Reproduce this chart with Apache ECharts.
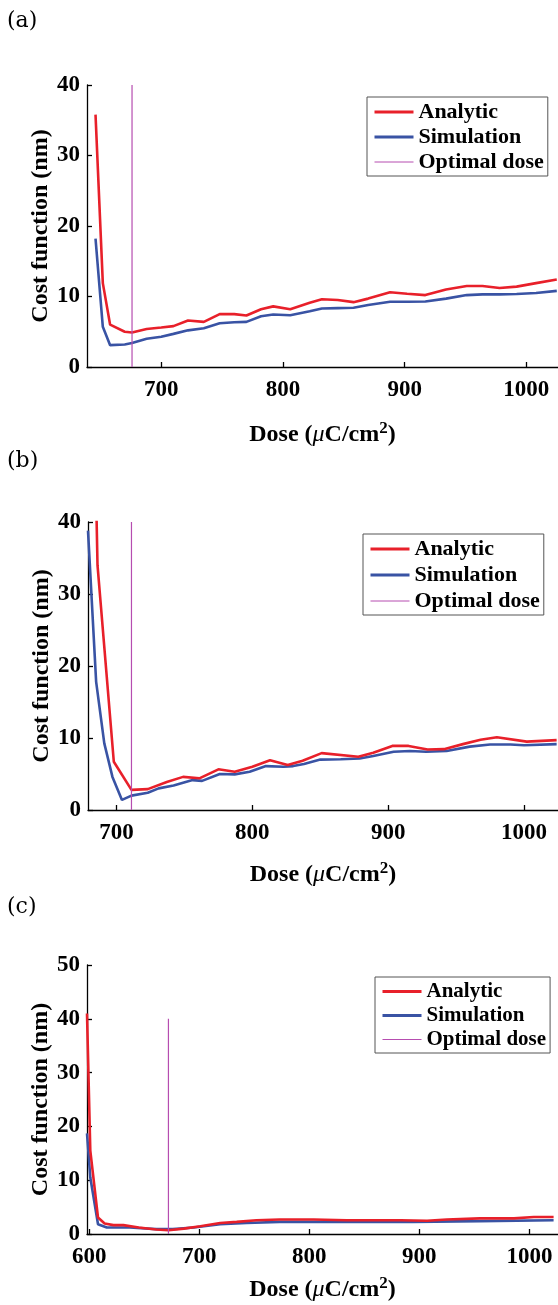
<!DOCTYPE html>
<html>
<head>
<meta charset="utf-8">
<script src="https://cdn.jsdelivr.net/npm/echarts@6.0.0/dist/echarts.min.js"></script>
<style>
html, body { margin: 0; padding: 0; background: #fff; }
#main { width: 558px; height: 1305px; }
</style>
</head>
<body>
<div id="main"></div>
<script>
// panel (a)
var doseA = [646, 652, 658, 670, 676, 688, 700, 710, 722, 735, 748, 760, 770, 782, 792, 806, 822, 832, 845, 858, 870, 888, 902, 917, 934, 951, 964, 978, 992, 1008, 1025];
var analyticA = [35.8, 11.9, 6.0, 5.0, 4.9, 5.4, 5.6, 5.8, 6.6, 6.4, 7.5, 7.5, 7.3, 8.2, 8.6, 8.2, 9.1, 9.6, 9.5, 9.2, 9.7, 10.6, 10.4, 10.2, 11.0, 11.5, 11.5, 11.2, 11.4, 11.9, 12.4];
var simulationA = [18.2, 5.7, 3.1, 3.2, 3.4, 4.0, 4.3, 4.7, 5.2, 5.5, 6.2, 6.35, 6.4, 7.2, 7.45, 7.35, 7.9, 8.3, 8.35, 8.4, 8.8, 9.25, 9.25, 9.3, 9.7, 10.2, 10.3, 10.3, 10.35, 10.5, 10.8];
var optimalA = 676;

// panel (b)
var doseAnalyticB = [679, 686, 698, 711, 723, 737, 749, 761, 775, 787, 800, 813, 826, 837, 851, 878, 889, 903, 915, 929, 941, 955, 968, 980, 1002, 1024];
var analyticB = [100, 34.0, 6.7, 2.8, 2.9, 3.9, 4.6, 4.4, 5.65, 5.3, 6.0, 6.9, 6.25, 6.85, 7.9, 7.4, 7.95, 8.9, 8.9, 8.4, 8.45, 9.15, 9.75, 10.1, 9.5, 9.7];
var doseSimulationB = [679, 685, 691, 697, 704, 711, 723, 731, 742, 756, 763, 776, 787, 798, 810, 823, 830, 838, 850, 865, 879, 889, 904, 916, 928, 943, 960, 975, 990, 1000, 1024];
var simulationB = [38.8, 17.8, 9.25, 4.6, 1.4, 2.0, 2.4, 3.0, 3.4, 4.15, 4.05, 5.0, 4.95, 5.3, 6.1, 6.0, 6.1, 6.4, 7.0, 7.05, 7.15, 7.5, 8.1, 8.2, 8.1, 8.2, 8.8, 9.1, 9.1, 9.0, 9.15];
var optimalB = 711;

// panel (c)
var doseAnalyticC = [598, 601, 608, 614, 622, 631, 645, 661, 672, 686, 701, 719, 734, 752, 773, 804, 834, 860, 883, 907, 925, 955, 986, 1004, 1022];
var analyticC = [41, 15.5, 3.05, 1.95, 1.65, 1.65, 1.2, 0.85, 0.7, 1.0, 1.45, 2.05, 2.25, 2.55, 2.7, 2.7, 2.55, 2.55, 2.55, 2.45, 2.7, 2.9, 2.9, 3.15, 3.15];
var doseSimulationC = [598, 601, 608, 616, 637, 661, 676, 695, 719, 743, 773, 830, 894, 955, 1022];
var simulationC = [18.7, 10.5, 1.8, 1.2, 1.2, 0.9, 0.9, 1.2, 1.8, 2.05, 2.25, 2.25, 2.25, 2.4, 2.55];
var optimalC = 672;

var xTicks = [700, 800, 900, 1000];
var xTicksC = [600, 700, 800, 900, 1000];

var RED = '#e8202a', BLUE = '#3953a4', PURPLE = '#b64db0';
var FONT = 'Liberation Serif';

var legendNames = [
    {name: 'Analytic', lineStyle: {width: 3}},
    {name: 'Simulation', lineStyle: {width: 3}},
    {name: 'Optimal dose', lineStyle: {width: 1}}
];

function zip(xs, ys) {
    return xs.map(function (x, i) { return [x, ys[i]]; });
}

var myChart = echarts.init(document.getElementById('main'));

var panels = [
    {label: '(a)', labelTop: 10, top: 85, height: 282, left: 87, xMin: 639, xMax: 1026, yMax: 40, ticks: xTicks, nameGap: 53,
        legend: {left: 367, top: 97, gap: 3, size: 22},
        red: zip(doseA, analyticA), blue: zip(doseA, simulationA), opt: optimalA},
    {label: '(b)', labelTop: 450, top: 522, height: 288, left: 88, xMin: 679, xMax: 1025, yMax: 40, ticks: xTicks, nameGap: 50,
        legend: {left: 363, top: 534, gap: 4, size: 22},
        red: zip(doseAnalyticB, analyticB), blue: zip(doseSimulationB, simulationB), opt: optimalB},
    {label: '(c)', labelTop: 896, top: 965, height: 269, left: 87, xMin: 598, xMax: 1026, yMax: 50, ticks: xTicksC, nameGap: 41,
        legend: {left: 375, top: 977, gap: 3, size: 21},
        red: zip(doseAnalyticC, analyticC), blue: zip(doseSimulationC, simulationC), opt: optimalC}
];

var option = {
    animation: false,
    backgroundColor: '#fff',
    title: [], grid: [], xAxis: [], yAxis: [], legend: [], series: []
};

panels.forEach(function (p, i) {
    option.title.push({
        text: p.label, left: 7, top: p.labelTop, padding: 0,
        textStyle: {fontFamily: 'DejaVu Serif', fontWeight: 'normal', fontSize: 22, color: '#000'}
    });
    option.grid.push({left: p.left, top: p.top, right: 0, height: p.height, outerBoundsMode: 'none'});
    option.xAxis.push({
        type: 'value', gridIndex: i, min: p.xMin, max: p.xMax,
        name: '{b|Dose (}{mu|μ}{b|C/cm}{sup|2}{b|)}',
        nameLocation: 'middle', nameGap: p.nameGap, nameMoveOverlap: false,
        nameTextStyle: {
            rich: {
                b: {fontFamily: FONT, fontWeight: 'bold', fontSize: 24, color: '#000', lineHeight: 30},
                mu: {fontFamily: FONT, fontStyle: 'italic', fontSize: 24, color: '#000', lineHeight: 30},
                sup: {fontFamily: FONT, fontWeight: 'bold', fontSize: 17, color: '#000', lineHeight: 30, verticalAlign: 'top'}
            }
        },
        axisLine: {onZero: false, lineStyle: {color: '#000', width: 1.3}},
        axisTick: {inside: true, length: 5, customValues: p.ticks, lineStyle: {color: '#000', width: 1.3}},
        axisLabel: {customValues: p.ticks, formatter: function (v) { return String(v); }, margin: 12,
            fontFamily: FONT, fontWeight: 'bold', fontSize: 23, color: '#000'},
        splitLine: {show: false}
    });
    option.yAxis.push({
        type: 'value', gridIndex: i, min: 0, max: p.yMax, interval: 10,
        name: 'Cost function (nm)', nameLocation: 'middle', nameGap: 34, nameMoveOverlap: false,
        nameTextStyle: {fontFamily: FONT, fontWeight: 'bold', fontSize: 24, color: '#000'},
        axisLine: {lineStyle: {color: '#000', width: 1.3}},
        axisTick: {inside: true, length: 5, lineStyle: {color: '#000', width: 1.3}},
        axisLabel: {margin: 7, fontFamily: FONT, fontWeight: 'bold', fontSize: 23, color: '#000'},
        splitLine: {show: false}
    });
    option.legend.push({
        data: legendNames, orient: 'vertical', left: p.legend.left, top: p.legend.top,
        padding: [4, 4, 3, 6], itemGap: p.legend.gap, itemWidth: 39, itemHeight: 22, itemTextGap: 2,
        borderColor: '#555', borderWidth: 1, backgroundColor: '#fff', selectedMode: false,
        itemStyle: {opacity: 0},
        textStyle: {fontFamily: FONT, fontWeight: 'bold', fontSize: p.legend.size, color: '#000'}
    });
    option.series.push(
        {name: 'Analytic', type: 'line', xAxisIndex: i, yAxisIndex: i, data: p.red, symbol: 'none', clip: true,
            lineStyle: {color: RED, width: 2.6}, itemStyle: {color: RED}, z: 3},
        {name: 'Simulation', type: 'line', xAxisIndex: i, yAxisIndex: i, data: p.blue, symbol: 'none', clip: true,
            lineStyle: {color: BLUE, width: 2.6}, itemStyle: {color: BLUE}, z: 2},
        {name: 'Optimal dose', type: 'line', xAxisIndex: i, yAxisIndex: i, data: [[p.opt, 0], [p.opt, 40]], symbol: 'none',
            lineStyle: {color: PURPLE, width: 1.2}, itemStyle: {color: PURPLE}, z: 4}
    );
});

myChart.setOption(option);
</script>
</body>
</html>
